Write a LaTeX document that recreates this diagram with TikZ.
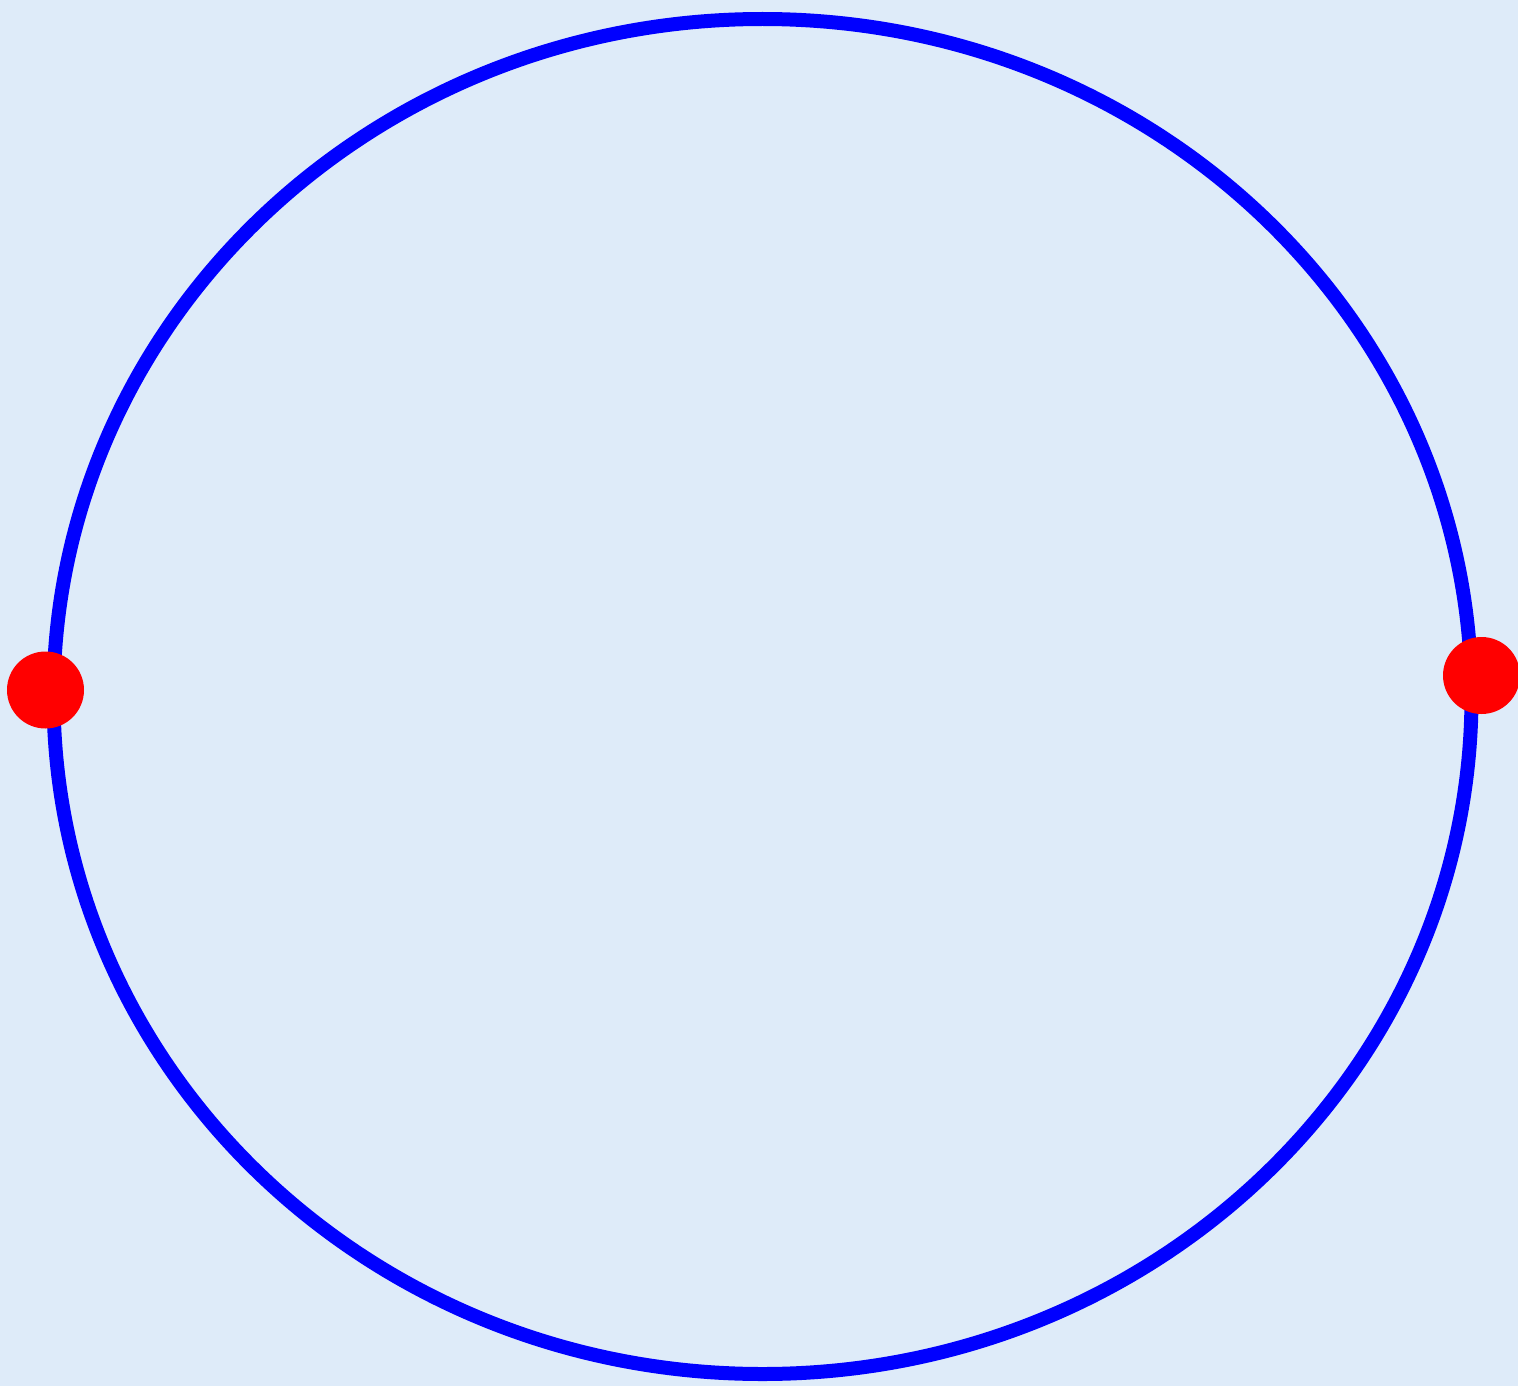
\documentclass[tikz,border=0pt]{standalone}
\definecolor{bgblue}{RGB}{222,235,249}
\tikzset{
  ring/.style={draw=blue, line width=14pt},
  reddot/.style={circle, fill=red, inner sep=0pt, minimum size=77pt},
}
\begin{document}
\begin{tikzpicture}[x=1pt, y=-1pt]
  \fill[bgblue] (0,0) rectangle (1518,1386);
  \useasboundingbox (0,0) rectangle (1518,1386);
  \coordinate (c) at (762.5,696.5);
  \draw[ring] (c) ellipse [x radius=709, y radius=677.5];
  \node[reddot] (left) at (45.5,690) {};
  \node[reddot] (right) at (1481.5,675.5) {};
\end{tikzpicture}
\end{document}
